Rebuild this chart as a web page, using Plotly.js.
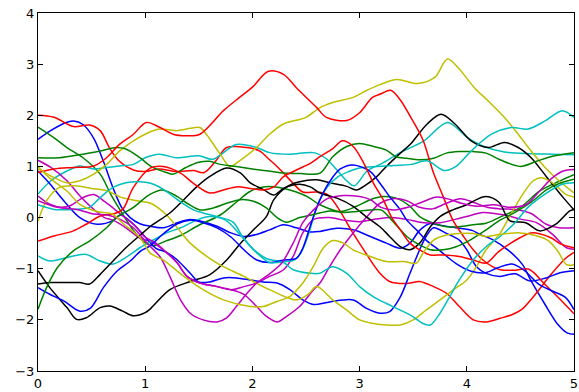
<!DOCTYPE html>
<html>
<head>
<meta charset="utf-8">
<script src="https://cdn.plot.ly/plotly-3.0.1.min.js"></script>
<style>html,body{margin:0;padding:0;background:#fff;}#chart{width:579px;height:392px;}</style>
</head>
<body>
<div id="chart"></div>
<script>
// ---- data (x positions and values for each series) ----
var blue1X = [0,0.11,0.25,0.33,0.42,0.52,0.61,0.7,0.78,0.86,0.95,1.05,1.17,1.3,1.42,1.54,1.67,1.8,1.92,2.04,2.16,2.29,2.41,2.54,2.63,2.79,2.94,3.1,3.25,3.38,3.47,3.56,3.65,3.75,3.9,4.05,4.12,4.24,4.4,4.52,4.6,4.73,4.85,4.94,5.0];
var blue1Y = [1.53,1.69,1.85,1.89,1.82,1.55,1.1,0.58,0.2,0.0,-0.12,-0.17,-0.2,-0.1,-0.04,-0.08,-0.17,-0.3,-0.37,-0.33,-0.24,-0.14,-0.2,-0.28,-0.27,-0.21,-0.24,-0.37,-0.5,-0.6,-0.5,-0.25,-0.12,-0.15,-0.2,-0.25,-0.33,-0.43,-0.66,-0.92,-1.24,-1.7,-2.09,-2.26,-2.28];
var blue2X = [0,0.11,0.24,0.39,0.55,0.7,0.77,0.9,1.0,1.1,1.2,1.3,1.42,1.5,1.6,1.73,1.85,1.98,2.1,2.23,2.35,2.47,2.57,2.72,2.94,3.06,3.19,3.28,3.38,3.47,3.56,3.62,3.69,3.81,3.93,4.0,4.09,4.18,4.31,4.45,4.59,4.74,4.87,5.0];
var blue2Y = [0.91,0.66,0.33,0.0,-0.13,-0.06,0.05,-0.15,-0.38,-0.6,-0.68,-0.83,-1.09,-1.26,-1.26,-1.18,-1.18,-1.22,-1.26,-1.28,-1.41,-1.61,-1.7,-1.65,-1.61,-1.77,-1.87,-1.84,-1.55,-1.09,-0.63,-0.37,-0.2,-0.31,-0.44,-0.63,-0.96,-1.09,-1.15,-1.1,-1.24,-1.18,-1.08,-1.04];
var blue3X = [0,0.11,0.24,0.39,0.49,0.61,0.74,0.86,0.96,1.05,1.15,1.3,1.42,1.54,1.67,1.8,1.92,2.04,2.16,2.29,2.41,2.47,2.55,2.63,2.72,2.82,2.94,3.1,3.19,3.28,3.38,3.44,3.53,3.62,3.75,3.9,4.04,4.17,4.29,4.42,4.54,4.67,4.79,4.92,5.0];
var blue3Y = [-1.37,-1.5,-1.63,-1.83,-1.77,-1.37,-1.04,-0.85,-0.65,-0.55,-0.35,-0.12,-0.05,-0.1,-0.2,-0.38,-0.63,-0.83,-0.88,-0.83,-0.8,-0.6,-0.1,0.35,0.7,0.95,1.03,0.9,0.67,0.41,0.15,-0.05,-0.24,-0.44,-0.65,-0.9,-1.05,-1.08,-0.98,-0.91,-1.04,-1.3,-1.43,-1.56,-1.8];

var green1X = [0,0.15,0.27,0.42,0.58,0.68,0.78,0.89,0.98,1.07,1.19,1.33,1.5,1.7,1.85,1.97,2.1,2.25,2.41,2.52,2.63,2.82,2.97,3.1,3.22,3.34,3.47,3.56,3.69,3.81,3.93,4.06,4.18,4.3,4.5,4.68,4.86,5.0];
var green1Y = [1.77,1.56,1.37,1.17,0.85,0.45,0.1,-0.25,-0.46,-0.55,-0.46,-0.35,-0.15,0.05,0.3,0.5,0.6,0.59,0.5,0.4,0.25,0.12,0.22,0.35,0.41,0.38,0.22,0.02,-0.11,-0.18,-0.18,-0.14,-0.11,0.0,0.2,0.52,0.71,0.84];
var green2X = [0,0.2,0.42,0.58,0.73,0.82,0.95,1.07,1.2,1.26,1.38,1.5,1.6,1.7,1.85,2.0,2.15,2.3,2.45,2.63,2.75,2.88,3.0,3.13,3.25,3.34,3.44,3.56,3.69,3.81,3.93,4.06,4.18,4.31,4.5,4.65,4.8,5.0];
var green2Y = [1.17,1.17,1.24,1.3,1.37,1.34,1.17,0.98,0.88,0.85,0.98,1.08,1.1,1.04,1.0,0.95,0.91,0.87,0.86,0.87,1.19,1.39,1.45,1.39,1.32,1.19,1.16,1.13,1.16,1.26,1.29,1.29,1.26,1.13,1.0,1.1,1.2,1.27];
var green3X = [0,0.08,0.18,0.33,0.48,0.64,0.73,0.89,1.04,1.16,1.3,1.39,1.51,1.64,1.76,1.89,2.01,2.13,2.23,2.32,2.44,2.57,2.72,2.85,2.97,3.1,3.2,3.3,3.44,3.53,3.66,3.78,3.9,4.03,4.18,4.31,4.45,4.6,4.75,4.88,5.0];
var green3Y = [-1.79,-1.37,-0.98,-0.65,-0.46,-0.2,0.0,0.2,0.45,0.54,0.41,0.28,0.15,0.19,0.28,0.35,0.32,0.19,0.0,-0.09,0.0,0.06,0.13,0.1,0.12,0.15,0.15,-0.05,-0.37,-0.5,-0.63,-0.63,-0.57,-0.44,-0.24,-0.05,0.1,0.3,0.55,0.68,0.75];

var red1X = [0,0.15,0.33,0.48,0.58,0.67,0.76,0.89,1.0,1.13,1.29,1.45,1.55,1.66,1.76,1.95,2.07,2.15,2.23,2.29,2.38,2.47,2.6,2.7,2.79,2.94,3.06,3.19,3.28,3.44,3.56,3.69,3.81,3.93,4.06,4.18,4.31,4.42,4.51,4.64,4.79,4.92,5.0];
var red1Y = [2.0,1.96,1.78,1.81,1.7,1.35,1.1,0.93,0.9,0.95,0.9,0.92,0.88,1.11,1.37,1.37,1.3,1.15,1.0,0.87,0.67,0.5,0.5,0.45,0.22,-0.31,-0.7,-1.09,-1.25,-1.29,-1.25,-1.35,-1.48,-1.74,-2.0,-2.04,-1.97,-1.9,-1.8,-1.5,-1.1,-0.8,-0.68];
var red2X = [0,0.15,0.33,0.52,0.64,0.76,0.89,1.01,1.13,1.26,1.38,1.51,1.73,1.88,2.0,2.15,2.29,2.41,2.6,2.69,2.88,3.0,3.12,3.2,3.29,3.38,3.48,3.59,3.69,3.78,3.87,3.97,4.06,4.15,4.24,4.31,4.45,4.58,4.73,4.89,5.0];
var red2Y = [0.88,0.95,0.98,1.01,1.17,1.43,1.63,1.86,1.77,1.63,1.6,1.63,2.09,2.35,2.55,2.86,2.8,2.54,2.15,1.96,1.9,2.05,2.35,2.42,2.49,2.3,1.95,1.52,0.87,0.41,-0.05,-0.37,-0.63,-0.83,-0.96,-1.02,-1.03,-1.01,-1.31,-1.64,-1.88];
var red3X = [0,0.15,0.33,0.45,0.58,0.7,0.79,0.89,1.05,1.17,1.33,1.45,1.6,1.73,1.85,1.98,2.1,2.2,2.29,2.41,2.54,2.63,2.75,2.84,2.94,3.03,3.13,3.22,3.3,3.38,3.47,3.56,3.66,3.78,3.93,4.06,4.18,4.3,4.5,4.6,4.78,4.88,5.0];
var red3Y = [-0.46,-0.36,-0.26,-0.13,0.03,0.07,0.16,0.59,0.97,1.0,0.87,0.67,0.48,0.54,0.6,0.57,0.54,0.6,0.8,0.93,1.06,1.19,1.35,1.5,1.39,1.1,0.67,0.35,0.0,-0.24,-0.5,-0.63,-0.73,-0.73,-0.76,-0.83,-0.89,-0.66,-0.39,-0.3,-0.39,-0.52,-0.59];

var cyan1X = [0,0.12,0.27,0.39,0.52,0.64,0.76,0.89,1.0,1.13,1.29,1.5,1.63,1.85,2.04,2.16,2.35,2.57,2.69,2.78,2.88,2.95,3.07,3.2,3.38,3.6,3.82,4.01,4.15,4.35,4.6,4.8,5.0];
var cyan1Y = [0.46,0.72,0.91,1.01,0.95,0.98,1.01,1.04,1.17,1.24,1.17,1.21,1.14,1.43,1.37,1.27,1.24,1.27,1.15,0.95,0.72,0.62,0.91,1.05,1.27,1.5,1.86,1.56,1.4,1.28,1.25,1.24,1.23];
var cyan2X = [0,0.11,0.33,0.45,0.58,0.7,0.82,0.95,1.05,1.2,1.33,1.48,1.6,1.75,1.87,2.0,2.13,2.25,2.38,2.45,2.52,2.6,2.7,2.8,2.9,3.0,3.16,3.32,3.48,3.63,3.79,3.9,4.04,4.23,4.42,4.57,4.73,4.89,5.0];
var cyan2Y = [-0.75,-0.85,-0.75,-0.72,-0.85,-0.91,-0.78,-0.59,-0.47,-0.3,-0.2,-0.05,0.02,-0.05,-0.3,-0.6,-0.8,-0.85,-0.84,-0.7,-0.35,0.2,0.6,0.8,0.9,0.97,1.0,1.02,1.04,1.11,0.92,1.0,1.3,1.63,1.76,1.73,1.89,2.09,1.96];
var cyan3X = [0,0.15,0.33,0.48,0.58,0.7,0.82,0.95,1.05,1.17,1.3,1.45,1.54,1.67,1.82,1.91,2.04,2.16,2.29,2.38,2.54,2.63,2.75,2.88,3.0,3.13,3.25,3.38,3.5,3.59,3.66,3.75,3.84,3.93,4.06,4.18,4.31,4.45,4.57,4.73,4.89,5.0];
var cyan3Y = [0.25,0.16,0.16,0.2,0.39,0.59,0.68,0.7,0.67,0.55,0.35,0.15,0.09,0.02,-0.09,-0.38,-0.69,-0.88,-0.88,-1.02,-1.09,-1.09,-0.96,-1.09,-1.35,-1.55,-1.68,-1.81,-1.94,-2.07,-2.1,-1.87,-1.55,-1.22,-0.83,-0.57,-0.37,-0.1,0.2,0.46,0.65,0.68];

var magenta1X = [0,0.12,0.27,0.4,0.52,0.62,0.7,0.82,0.95,1.05,1.17,1.3,1.39,1.51,1.67,1.8,1.92,2.04,2.16,2.29,2.38,2.47,2.57,2.72,2.85,3.0,3.15,3.3,3.45,3.6,3.75,3.9,4.05,4.15,4.35,4.5,4.65,4.8,4.93,5.0];
var magenta1Y = [1.12,0.98,0.72,0.4,0.16,0.0,-0.05,-0.2,-0.4,-0.47,-0.63,-0.89,-1.15,-1.28,-1.35,-1.41,-1.35,-1.28,-1.15,-1.02,-0.76,-0.3,-0.04,0.0,-0.05,-0.08,-0.03,0.0,-0.04,-0.1,-0.1,-0.03,0.05,0.1,0.05,-0.03,-0.1,-0.33,-0.59,-0.62];
var magenta2X = [0,0.11,0.22,0.3,0.42,0.52,0.63,0.78,0.9,1.0,1.1,1.17,1.3,1.39,1.51,1.67,1.8,1.92,2.04,2.13,2.23,2.32,2.44,2.57,2.63,2.72,2.82,2.94,3.07,3.19,3.31,3.44,3.56,3.68,3.81,3.94,4.06,4.19,4.31,4.45,4.6,4.74,4.86,5.0];
var magenta2Y = [0.42,0.26,0.2,0.23,0.39,0.45,0.3,0.05,-0.15,-0.38,-0.5,-0.63,-0.89,-1.15,-1.28,-1.35,-1.41,-1.5,-1.74,-1.93,-2.04,-1.93,-1.74,-1.41,-1.28,-0.96,-0.63,-0.3,0.02,0.28,0.37,0.33,0.2,0.17,0.28,0.37,0.3,0.2,0.17,0.16,0.08,-0.13,-0.2,-0.2];
var magenta3X = [0,0.18,0.36,0.52,0.65,0.78,0.89,1.0,1.05,1.14,1.23,1.33,1.42,1.54,1.67,1.76,1.85,1.95,2.04,2.16,2.27,2.38,2.47,2.57,2.7,2.85,3.0,3.1,3.2,3.32,3.45,3.58,3.72,3.85,3.95,4.1,4.25,4.4,4.55,4.68,4.8,4.9,5.0];
var magenta3Y = [0.33,0.2,0.16,0.07,0.05,-0.05,-0.2,-0.46,-0.57,-0.77,-1.15,-1.61,-1.87,-2.0,-2.04,-1.96,-1.74,-1.48,-1.28,-1.1,-0.9,-0.5,-0.1,0.15,0.37,0.43,0.41,0.35,0.2,0.15,0.2,0.3,0.4,0.35,0.28,0.22,0.25,0.2,0.25,0.52,0.78,0.91,0.94];

var yellow1X = [0,0.15,0.27,0.39,0.52,0.64,0.76,0.89,1.0,1.13,1.29,1.41,1.51,1.57,1.7,1.79,1.88,2.04,2.16,2.29,2.5,2.63,2.75,2.94,3.06,3.19,3.35,3.54,3.7,3.82,3.92,4.07,4.2,4.35,4.48,4.6,4.73,4.86,5.0];
var yellow1Y = [0.95,0.78,0.68,0.72,0.85,1.04,1.3,1.5,1.63,1.73,1.7,1.74,1.76,1.63,1.24,1.0,1.11,1.37,1.63,1.83,1.96,2.15,2.25,2.35,2.48,2.6,2.7,2.62,2.74,3.1,2.93,2.54,2.28,1.96,1.63,1.3,0.98,0.72,0.48];
var yellow2X = [0,0.08,0.2,0.35,0.5,0.65,0.77,0.92,1.05,1.2,1.32,1.42,1.67,1.92,2.16,2.41,2.52,2.6,2.75,2.88,3.0,3.13,3.25,3.38,3.5,3.62,3.75,3.87,4.0,4.09,4.18,4.31,4.42,4.52,4.62,4.7,4.82,4.92,5.0];
var yellow2Y = [-0.07,0.33,0.59,0.62,0.57,0.52,0.4,0.33,0.28,0.05,-0.25,-0.5,-0.89,-1.15,-1.41,-1.61,-1.5,-1.35,-1.61,-1.81,-2.0,-2.07,-2.1,-2.1,-2.0,-1.81,-1.61,-1.42,-1.22,-0.96,-0.63,-0.31,0.1,0.45,0.72,0.78,0.65,0.46,0.4];
var yellow3X = [0,0.11,0.27,0.39,0.55,0.7,0.8,0.95,1.05,1.17,1.36,1.54,1.73,1.98,2.1,2.23,2.35,2.47,2.57,2.66,2.75,2.85,2.94,3.1,3.25,3.41,3.53,3.59,3.69,3.81,3.93,4.06,4.18,4.3,4.5,4.64,4.76,4.85,4.93,5.0];
var yellow3Y = [1.0,0.77,0.52,0.26,0.12,0.06,-0.13,-0.39,-0.7,-0.83,-1.15,-1.41,-1.61,-1.74,-1.74,-1.64,-1.54,-1.28,-0.95,-0.6,-0.45,-0.5,-0.63,-0.76,-0.86,-0.86,-0.89,-0.7,-0.44,-0.34,-0.31,-0.31,-0.37,-0.33,-0.3,-0.35,-0.45,-0.66,-0.92,-0.92];

var black1X = [0,0.11,0.27,0.36,0.45,0.58,0.67,0.79,0.89,1.0,1.05,1.23,1.42,1.6,1.76,1.89,2.01,2.13,2.2,2.32,2.44,2.6,2.72,2.88,2.97,3.06,3.16,3.25,3.38,3.48,3.63,3.76,3.89,4.04,4.2,4.35,4.48,4.6,4.75,4.9,5.0];
var black1Y = [-1.04,-1.37,-1.76,-1.99,-1.96,-1.76,-1.73,-1.83,-1.92,-1.86,-1.78,-1.41,-1.25,-1.12,-0.83,-0.5,-0.24,0.02,0.35,0.6,0.7,0.74,0.68,0.61,0.54,0.64,0.8,1.0,1.26,1.45,1.83,2.02,1.83,1.5,1.37,1.47,1.37,1.17,0.78,0.39,0.15];
var black2X = [0,0.11,0.27,0.39,0.48,0.58,0.7,0.82,0.95,1.05,1.23,1.36,1.48,1.6,1.76,1.89,1.98,2.1,2.2,2.29,2.44,2.54,2.63,2.79,2.94,3.06,3.19,3.28,3.38,3.47,3.56,3.66,3.75,3.87,4.0,4.09,4.18,4.3,4.4,4.55,4.68,4.83,4.96,5.0];
var black2Y = [-1.3,-1.27,-1.27,-1.27,-1.3,-1.11,-0.85,-0.59,-0.35,-0.17,0.09,0.35,0.6,0.8,0.97,0.87,0.68,0.55,0.44,0.57,0.65,0.6,0.48,0.38,0.22,0.02,-0.18,-0.37,-0.57,-0.63,-0.5,-0.18,0.02,0.15,0.25,0.35,0.41,0.3,-0.06,-0.1,-0.26,-0.13,0.13,0.16];

var xTickVals = [0,1,2,3,4,5];
var xTickText = ['0','1','2','3','4','5'];
var yTickVals = [-3,-2,-1,0,1,2,3,4];
var yTickText = ['\u22123','\u22122','\u22121','0','1','2','3','4'];

// classic matplotlib colour cycle b, g, r, c, m, y, k
var seriesList = [
  [blue1X, blue1Y, '#0000ff'], [green1X, green1Y, '#008000'], [red1X, red1Y, '#ff0000'],
  [cyan1X, cyan1Y, '#00bfbf'], [magenta1X, magenta1Y, '#bf00bf'], [yellow1X, yellow1Y, '#bfbf00'],
  [black1X, black1Y, '#000000'],
  [blue2X, blue2Y, '#0000ff'], [green2X, green2Y, '#008000'], [red2X, red2Y, '#ff0000'],
  [cyan2X, cyan2Y, '#00bfbf'], [magenta2X, magenta2Y, '#bf00bf'], [yellow2X, yellow2Y, '#bfbf00'],
  [black2X, black2Y, '#000000'],
  [blue3X, blue3Y, '#0000ff'], [green3X, green3Y, '#008000'], [red3X, red3Y, '#ff0000'],
  [cyan3X, cyan3Y, '#00bfbf'], [magenta3X, magenta3Y, '#bf00bf'], [yellow3X, yellow3Y, '#bfbf00']
];

var traces = seriesList.map(function (s) {
  return {
    x: s[0], y: s[1], type: 'scatter', mode: 'lines',
    line: {color: s[2], width: 1.5, shape: 'spline', smoothing: 0.9},
    hoverinfo: 'skip', showlegend: false
  };
});

var axisCommon = {
  showgrid: false, zeroline: false, showline: true, linecolor: '#000', linewidth: 1,
  mirror: 'ticks', ticks: 'inside', ticklen: 5, tickwidth: 1, tickcolor: '#000',
  tickfont: {family: 'DejaVu Sans, sans-serif', size: 13, color: '#000'},
  tickmode: 'array'
};

var layout = {
  width: 579, height: 392,
  margin: {l: 38, r: 5, t: 13, b: 21, pad: 0},
  paper_bgcolor: '#fff', plot_bgcolor: '#fff',
  showlegend: false,
  xaxis: Object.assign({}, axisCommon, {range: [0, 5], tickvals: xTickVals, ticktext: xTickText}),
  yaxis: Object.assign({}, axisCommon, {range: [-3, 4], tickvals: yTickVals, ticktext: yTickText})
};

Plotly.newPlot('chart', traces, layout, {staticPlot: true, displayModeBar: false});
</script>
</body>
</html>
